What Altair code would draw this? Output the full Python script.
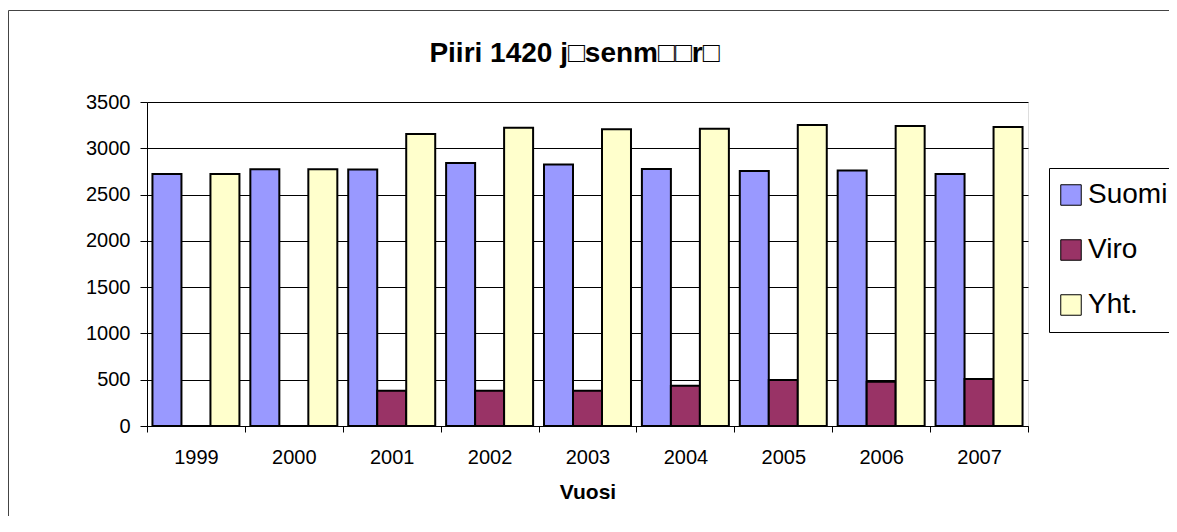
import altair as alt
import pandas as pd

years = ["1999", "2000", "2001", "2002", "2003", "2004", "2005", "2006", "2007"]
suomi = [2722, 2773, 2772, 2842, 2825, 2776, 2754, 2761, 2722]
viro = [0, 0, 382, 380, 381, 435, 497, 479, 508]
yht = [2722, 2773, 3154, 3222, 3206, 3211, 3251, 3240, 3230]
series = ["Suomi", "Viro", "Yht."]
colors = ["#9999FF", "#993366", "#FFFFCC"]
title_text = "Piiri 1420 j\u25a1senm\u25a1\u25a1r\u25a1"

rows = []
for i, y in enumerate(years):
    for s, vals in zip(series, [suomi, viro, yht]):
        rows.append({"Vuosi": y, "Sarja": s, "Arvo": vals[i]})
df = pd.DataFrame(rows)

FONT = "Liberation Sans"

bars = alt.Chart(df).mark_bar(stroke="black", strokeWidth=2).encode(
    x=alt.X("Vuosi:N", sort=years,
            scale=alt.Scale(paddingInner=0, paddingOuter=0),
            axis=alt.Axis(title="Vuosi", labelAngle=0, tickBand="extent",
                          tickSize=6, tickColor="black", domainColor="black",
                          labelPadding=15, labelFontSize=20, labelFont=FONT,
                          labelColor="black", titleFont=FONT, titleFontSize=21,
                          titleFontWeight="bold", titleColor="black",
                          titlePadding=14, grid=False)),
    xOffset=alt.XOffset("Sarja:N", sort=series,
                        scale=alt.Scale(paddingInner=0, paddingOuter=0.188)),
    y=alt.Y("Arvo:Q", scale=alt.Scale(domain=[0, 3500], nice=False),
            axis=alt.Axis(title=None, values=[0, 500, 1000, 1500, 2000, 2500, 3000, 3500],
                          format="d",
                          tickSize=7, tickColor="black", domainColor="black",
                          labelPadding=10, labelFontSize=20, labelFont=FONT,
                          labelColor="black", grid=True, gridColor="black",
                          gridWidth=1, gridOpacity=1)),
    color=alt.Color("Sarja:N", sort=series,
                    scale=alt.Scale(domain=series, range=colors),
                    legend=alt.Legend(title=None, orient="none", legendX=902, legendY=66,
                                      fillColor="white", strokeColor="black",
                                      padding=13, labelFontSize=28, labelFont=FONT,
                                      labelColor="black", symbolType="square",
                                      symbolSize=420, symbolStrokeColor="black",
                                      symbolStrokeWidth=1, rowPadding=27,
                                      symbolOffset=-5, labelOffset=3)),
)

frame_df = pd.DataFrame({"f": [1]})
frame = alt.Chart(frame_df).mark_rect(fill=None, stroke="#444444", strokeWidth=1, clip=False).encode(
    x=alt.value(-138.5), y=alt.value(-91.5), x2=alt.value(1100), y2=alt.value(500)
)

chart = alt.layer(bars, frame).properties(
    width=881, height=324,
    title=alt.TitleParams(title_text, font=FONT, fontSize=28, fontWeight="bold",
                          color="black", anchor="middle", frame="group",
                          baseline="alphabetic", offset=-80, dx=-13),
    padding={"left": 139, "top": 94, "right": 141, "bottom": 90},
    autosize=alt.AutoSizeParams(type="none"),
).configure_view(fill="#C0C0C0", stroke=None).configure(background="white")

chart.save("out.html", embed_options={"renderer": "svg", "actions": False})
